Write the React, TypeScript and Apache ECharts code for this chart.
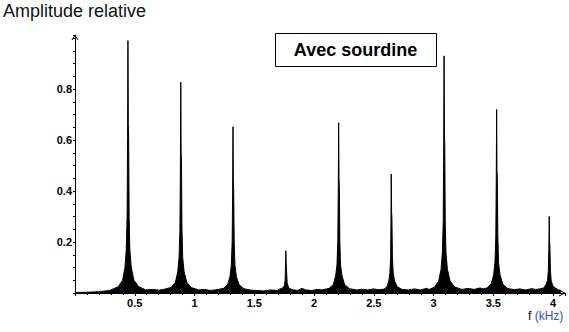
import React, { useEffect, useRef } from 'react';
import * as echarts from 'echarts';

// Spectrum: [frequency kHz, relative amplitude]
const spectrum: [number, number][] = [
  [0, 0.002], [0.1, 0.003], [0.2, 0.005], [0.29, 0.01],
  [0.363, 0.025], [0.398, 0.05], [0.418, 0.1], [0.429, 0.17], [0.436, 0.3], [0.44, 0.61], [0.443, 0.99], [0.446, 0.66], [0.449, 0.61], [0.453, 0.3], [0.459, 0.17], [0.471, 0.1], [0.493, 0.05], [0.533, 0.025], [0.593, 0.012],
  [0.65, 0.014], [0.7, 0.011], [0.75, 0.015],
  [0.805, 0.022], [0.84, 0.042], [0.86, 0.083], [0.871, 0.14], [0.878, 0.25], [0.882, 0.51], [0.885, 0.827], [0.888, 0.55], [0.891, 0.51], [0.895, 0.25], [0.901, 0.14], [0.913, 0.083], [0.935, 0.042], [0.975, 0.021], [1.035, 0.012],
  [1.08, 0.014], [1.13, 0.01], [1.172, 0.012],
  [1.242, 0.018], [1.277, 0.033], [1.297, 0.065], [1.308, 0.11], [1.315, 0.2], [1.319, 0.4], [1.322, 0.652], [1.325, 0.44], [1.328, 0.4], [1.332, 0.2], [1.338, 0.11], [1.35, 0.065], [1.372, 0.033], [1.412, 0.017], [1.472, 0.011],
  [1.52, 0.01], [1.58, 0.008], [1.64, 0.012], [1.69, 0.01],
  [1.708, 0.014], [1.738, 0.02], [1.753, 0.03], [1.758, 0.05], [1.761, 0.1], [1.764, 0.166], [1.767, 0.12], [1.77, 0.09], [1.775, 0.04], [1.788, 0.02], [1.818, 0.013],
  [1.86, 0.01], [1.9, 0.018], [1.93, 0.012], [1.98, 0.01], [2.03, 0.014], [2.06, 0.012],
  [2.126, 0.018], [2.161, 0.033], [2.181, 0.067], [2.192, 0.11], [2.199, 0.2], [2.203, 0.41], [2.206, 0.668], [2.209, 0.45], [2.212, 0.41], [2.216, 0.2], [2.222, 0.11], [2.234, 0.067], [2.256, 0.033], [2.296, 0.017], [2.356, 0.012],
  [2.4, 0.015], [2.45, 0.012], [2.5, 0.016], [2.536, 0.013],
  [2.586, 0.015], [2.611, 0.025], [2.626, 0.047], [2.635, 0.08], [2.641, 0.14], [2.644, 0.29], [2.646, 0.467], [2.649, 0.32], [2.652, 0.29], [2.656, 0.14], [2.662, 0.08], [2.674, 0.047], [2.696, 0.025], [2.736, 0.014], [2.79, 0.012],
  [2.84, 0.016], [2.89, 0.012], [2.94, 0.018], [2.963, 0.014],
  [3.008, 0.023], [3.043, 0.047], [3.063, 0.093], [3.074, 0.16], [3.081, 0.28], [3.085, 0.58], [3.088, 0.93], [3.091, 0.62], [3.094, 0.58], [3.098, 0.28], [3.104, 0.16], [3.116, 0.093], [3.138, 0.047], [3.178, 0.023], [3.238, 0.014],
  [3.29, 0.018], [3.34, 0.014], [3.39, 0.02], [3.414, 0.016],
  [3.448, 0.02], [3.483, 0.036], [3.503, 0.072], [3.514, 0.12], [3.521, 0.22], [3.525, 0.45], [3.528, 0.72], [3.531, 0.48], [3.534, 0.45], [3.538, 0.22], [3.544, 0.12], [3.556, 0.072], [3.578, 0.036], [3.618, 0.018], [3.674, 0.013],
  [3.72, 0.016], [3.77, 0.012], [3.82, 0.017], [3.855, 0.014],
  [3.888, 0.016], [3.923, 0.02], [3.943, 0.035], [3.954, 0.05], [3.961, 0.09], [3.965, 0.18], [3.968, 0.3], [3.971, 0.2], [3.974, 0.18], [3.978, 0.09], [3.984, 0.05], [3.996, 0.03], [4.018, 0.02], [4.045, 0.012], [4.065, 0.01],
];

const xTickLabels = ['0.5', '1', '1.5', '2', '2.5', '3', '3.5', '4'];
const yTickLabels = ['0.2', '0.4', '0.6', '0.8'];
const X_MAX = 4.1;
const Y_MAX = 1.012;

export default function App() {
  const ref = useRef<HTMLDivElement>(null);
  useEffect(() => {
    document.body.style.margin = '0';
    const chart = echarts.init(ref.current!, null, { renderer: 'svg' });
    const labelFont = { fontFamily: 'Liberation Sans', fontWeight: 'bold' as const, fontSize: 11, color: '#000' };
    chart.setOption({
      animation: false,
      backgroundColor: '#fff',
      grid: { left: 75, right: 4, top: 35, bottom: 39, containLabel: false },
      xAxis: {
        type: 'value', min: 0, max: X_MAX, interval: 0.5,
        axisLine: { show: true, onZero: false, lineStyle: { color: '#000', width: 1 } },
        axisTick: { show: true, length: 3, lineStyle: { color: '#000' } },
        minorTick: { show: true, splitNumber: 5, length: 2, lineStyle: { color: '#000' } },
        splitLine: { show: false },
        axisLabel: {
          ...labelFont, margin: 5, lineHeight: 10, hideOverlap: false, showMinLabel: true, showMaxLabel: true,
          formatter: (v: number) => {
            const s = String(Math.round(v * 10) / 10);
            return xTickLabels.includes(s) && Math.abs(v * 2 - Math.round(v * 2)) < 1e-6 ? s : '';
          },
        },
      },
      yAxis: {
        type: 'value', min: 0, max: Y_MAX, interval: 0.2,
        axisLine: { show: true, lineStyle: { color: '#000', width: 1 } },
        axisTick: { show: true, length: 2, lineStyle: { color: '#000' } },
        minorTick: { show: true, splitNumber: 4, length: 2, lineStyle: { color: '#000' } },
        splitLine: { show: false },
        axisLabel: {
          ...labelFont, margin: 3, hideOverlap: false,
          formatter: (v: number) => {
            const s = (Math.round(v * 10) / 10).toFixed(1);
            return yTickLabels.includes(s) && Math.abs(v * 5 - Math.round(v * 5)) < 1e-6 ? s : '';
          },
        },
      },
      series: [{
        type: 'line', data: spectrum, symbol: 'none', showSymbol: false, silent: true,
        lineStyle: { color: '#000', width: 1 },
        areaStyle: { color: '#000', opacity: 1 },
      }],
    });
    const [xe, ye] = chart.convertToPixel({ gridIndex: 0 }, [X_MAX, 0]) as number[];
    const [x0, yt] = chart.convertToPixel({ gridIndex: 0 }, [0, Y_MAX]) as number[];
    chart.setOption({
      graphic: [
        { type: 'text', left: 3, top: 2, style: { text: 'Amplitude relative', font: '18px "Liberation Sans"', fill: '#111' } },
        { type: 'rect', shape: { x: 275.5, y: 33.5, width: 161, height: 33 }, style: { fill: '#fff', stroke: '#000', lineWidth: 1 } },
        { type: 'text', x: 355.5, y: 50, style: { text: 'Avec sourdine', font: 'bold 18px "Liberation Sans"', fill: '#000', align: 'center', verticalAlign: 'middle' } },
        {
          type: 'text', x: 528, y: 316,
          style: {
            text: '{a|f} {b|(kHz)}', verticalAlign: 'middle',
            rich: {
              a: { font: '12px "Liberation Sans"', fill: '#000', lineHeight: 11 },
              b: { font: '12px "Liberation Sans"', fill: '#2a55b8', lineHeight: 11 },
            },
          },
        },
        { type: 'polyline', shape: { points: [[x0 - 3, yt + 5], [x0, yt], [x0 + 3, yt + 5]] }, style: { fill: 'none', stroke: '#000', lineWidth: 1 } },
        { type: 'polyline', shape: { points: [[xe - 6, ye - 3], [xe, ye], [xe - 6, ye + 3]] }, style: { fill: 'none', stroke: '#000', lineWidth: 1 } },
      ],
    });
    return () => chart.dispose();
  }, []);
  return <div ref={ref} style={{ width: 569, height: 332 }} />;
}
